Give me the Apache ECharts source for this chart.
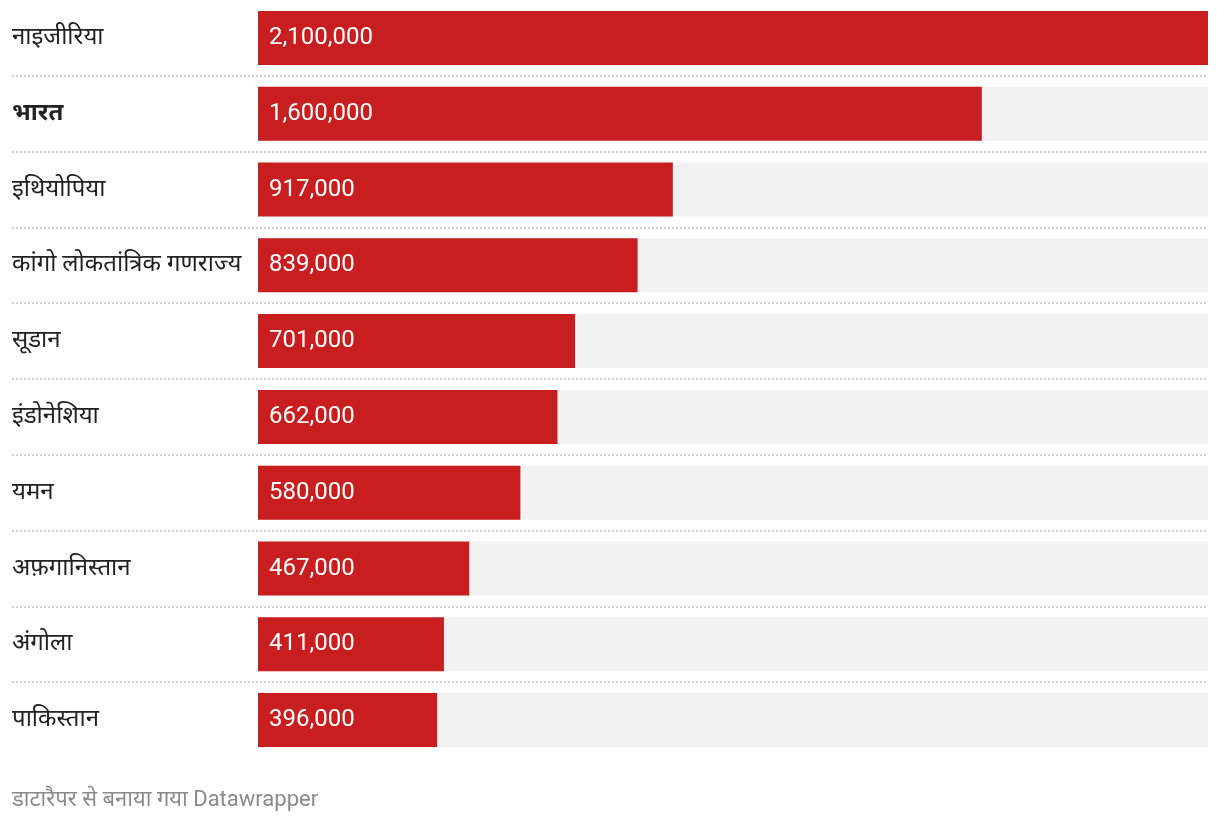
<!DOCTYPE html>
<html>
<head>
<meta charset="utf-8">
<script src="https://cdn.jsdelivr.net/npm/echarts@6/dist/echarts.min.js"></script>
<style>
html,body{margin:0;padding:0;background:#fff;}
#chart{width:1220px;height:826px;}
</style>
</head>
<body>
<div id="chart"></div>
<script>
const categories = ['नाइजीरिया','भारत','इथियोपिया','कांगो लोकतांत्रिक गणराज्य','सूडान','इंडोनेशिया','यमन','अफ़गानिस्तान','अंगोला','पाकिस्तान'];
const values = [2100000,1600000,917000,839000,701000,662000,580000,467000,411000,396000];
const highlighted = ['भारत'];
const maxValue = 2100000;
const footer = 'डाटारैपर से बनाया गया Datawrapper';

const FONT = "Roboto, 'Noto Sans', 'Noto Sans Devanagari', sans-serif";
const chart = echarts.init(document.getElementById('chart'), null, {renderer:'canvas'});
const gridTop = -2, gridHeight = 760;
chart.setOption({
  animation:false,
  title:{
    text: footer, left: 7, top: 784,
    textStyle:{fontFamily:FONT, fontSize:22, fontWeight:'normal', color:'#8a8a8a'}
  },
  grid:[
    {left:258, right:12, top:gridTop, height:gridHeight},
    {left:12, right:12, top:gridTop, height:gridHeight}
  ],
  xAxis:[
    {type:'value', gridIndex:0, min:0, max:maxValue, show:false},
    {type:'value', gridIndex:1, min:0, max:1, show:false}
  ],
  yAxis:[
    {type:'category', gridIndex:0, data:categories, inverse:true,
     axisLine:{show:false}, axisTick:{show:false}, splitLine:{show:false},
     axisLabel:{
       align:'left', margin:246, fontFamily:FONT, fontSize:24, color:'#222',
       formatter: v => highlighted.includes(v) ? '{b|'+v+'}' : v,
       rich:{b:{fontFamily:FONT, fontSize:24, fontWeight:'bold', color:'#222'}}
     }},
    {type:'category', gridIndex:1, data:categories, inverse:true,
     axisLine:{show:false}, axisTick:{show:false}, axisLabel:{show:false},
     splitLine:{show:true, showMinLine:false, showMaxLine:false,
       lineStyle:{color:'#cfcfcf', width:2, type:[2,2]}}}
  ],
  series:[{
    type:'bar', xAxisIndex:0, yAxisIndex:0, data:values, barWidth:54,
    itemStyle:{color:'#c91e1f'},
    showBackground:true, backgroundStyle:{color:'#f2f2f2'},
    label:{show:true, position:'insideLeft', distance:11, color:'#fff',
      fontFamily:FONT, fontSize:24,
      formatter: p => p.value.toLocaleString('en-US')}
  }]
});
</script>
</body>
</html>
